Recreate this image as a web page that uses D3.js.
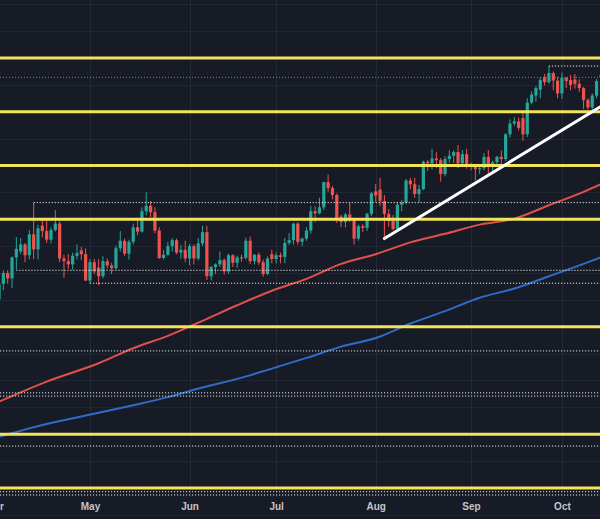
<!DOCTYPE html>
<html><head><meta charset="utf-8">
<script src="https://cdn.jsdelivr.net/npm/d3@7"></script>
<style>html,body{margin:0;padding:0;background:#171b26;overflow:hidden}</style>
</head><body><svg id="c" width="600" height="519"></svg>
<script>
// Daily candles, 1 Apr 2024 .. 14 Oct 2024 (weekdays)
const startDay = "2024-04-01", endDay = "2024-10-15";
const open  = [2232,2251,2280,2300,2290,2329,2340,2353,2333,2372,2344,2388,2378,2362,2380,2392,2327,2322,2316,2332,2342,2335,2286,2320,2310,2294,2322,2314,2309,2346,2360,2336,2358,2385,2377,2415,2425,2413,2379,2328,2334,2350,2361,2338,2343,2327,2350,2327,2355,2376,2294,2311,2316,2324,2303,2333,2319,2329,2328,2360,2322,2334,2320,2298,2335,2326,2333,2330,2356,2361,2392,2358,2364,2379,2415,2411,2422,2469,2458,2445,2405,2395,2409,2398,2364,2387,2384,2410,2452,2455,2434,2410,2397,2382,2427,2431,2472,2465,2447,2456,2507,2504,2513,2510,2484,2512,2518,2525,2504,2521,2503,2500,2493,2495,2516,2497,2506,2516,2512,2558,2578,2582,2588,2558,2617,2630,2641,2664,2655,2672,2658,2634,2663,2659,2660,2652,2644,2622,2608,2630,2668];
const high  = [2265,2288,2305,2305,2331,2367,2365,2356,2380,2431,2390,2402,2398,2385,2417,2396,2334,2335,2338,2353,2349,2346,2326,2326,2326,2331,2327,2319,2351,2378,2364,2362,2392,2398,2422,2450,2434,2422,2385,2343,2358,2365,2364,2352,2360,2354,2353,2365,2388,2388,2313,2318,2340,2327,2336,2335,2332,2334,2366,2368,2335,2338,2325,2331,2343,2338,2338,2365,2374,2393,2394,2366,2385,2425,2424,2440,2470,2483,2462,2448,2408,2412,2431,2400,2390,2391,2412,2451,2466,2477,2445,2419,2408,2432,2436,2475,2477,2477,2464,2509,2510,2531,2525,2514,2517,2528,2528,2538,2529,2531,2505,2502,2503,2523,2529,2509,2518,2528,2560,2586,2590,2589,2600,2625,2638,2648,2664,2670,2685,2675,2665,2673,2665,2668,2670,2660,2646,2625,2634,2661,2670];
const low   = [2228,2244,2268,2280,2272,2306,2335,2320,2325,2326,2325,2366,2356,2355,2377,2320,2291,2308,2306,2325,2324,2285,2280,2298,2277,2290,2308,2298,2306,2340,2332,2325,2353,2370,2375,2407,2404,2374,2326,2325,2331,2340,2335,2326,2320,2314,2316,2323,2350,2287,2286,2298,2311,2297,2298,2311,2310,2321,2325,2317,2316,2315,2293,2296,2318,2318,2318,2318,2352,2353,2353,2350,2360,2373,2395,2409,2417,2451,2437,2393,2385,2385,2395,2353,2360,2376,2378,2406,2432,2425,2364,2386,2379,2380,2415,2428,2456,2440,2431,2454,2490,2493,2495,2470,2480,2505,2505,2495,2502,2494,2491,2472,2484,2491,2485,2486,2500,2500,2508,2552,2574,2565,2546,2553,2614,2619,2625,2649,2652,2640,2625,2624,2644,2640,2643,2637,2605,2604,2603,2625,2654];
const close = [2251,2280,2300,2290,2329,2345,2353,2333,2372,2344,2383,2378,2362,2380,2392,2327,2322,2316,2332,2337,2335,2286,2320,2303,2294,2322,2314,2309,2346,2360,2336,2358,2385,2377,2415,2425,2413,2379,2328,2334,2350,2361,2338,2343,2327,2350,2327,2355,2376,2294,2311,2316,2324,2303,2333,2319,2329,2328,2360,2322,2334,2320,2298,2327,2326,2333,2330,2356,2361,2392,2358,2364,2379,2415,2411,2422,2469,2458,2445,2400,2395,2409,2398,2364,2387,2384,2410,2448,2444,2434,2410,2397,2382,2427,2431,2472,2465,2447,2456,2507,2504,2513,2510,2484,2512,2518,2525,2504,2521,2503,2500,2493,2495,2516,2497,2506,2516,2512,2558,2578,2582,2570,2558,2617,2632,2644,2659,2655,2672,2658,2634,2663,2657,2650,2652,2644,2622,2608,2630,2657,2664];

// Moving averages read at selected bars
const maBars = [0,12,24,32,40,48,56,64,72,80,88,96,104,112,120,128,136,140];
const maRed  = [2057,2098,2132,2160,2183,2211,2240,2267,2289,2317,2335,2357,2373,2390,2401,2426,2451,2465];
const maBlue = [1993,2019,2040,2054,2069,2087,2103,2122,2142,2163,2179,2206,2229,2254,2271,2294,2317,2329];

// Drawn levels
const yellowLevels = [2700,2600,2500,2400,2200,2000,1900];
const dotLevels = [2685,2431,2305,2281,2155,2077,2071,1978,1893,1887];
const dotFrom   = [128,9,5,22,0,0,0,0,0,0];
const lastPrice = 2664;
const trendBars = [90,140], trendVals = [2364,2610];
const gridStep = 50;

const W = 600, H = 519;
const svg = d3.select("#c");
const dates = d3.utcDays(new Date(startDay), new Date(endDay)).filter(d => d.getUTCDay() % 6 !== 0);
const n = close.length;

const x = d3.scaleLinear().domain([0, n - 1]).range([-5.3, 600.9]);
const y = d3.scaleLinear().domain([1842.3, 2807.9]).range([H, 0]);

svg.append("rect").attr("width", W).attr("height", H).attr("fill", "#171b26");

// month ticks = first trading day of each month
const monthIdx = [];
dates.forEach((d, i) => { if (i === 0 || d.getUTCMonth() !== dates[i - 1].getUTCMonth()) monthIdx.push(i); });
const fmt = d3.utcFormat("%b");

// grid
const gridVals = d3.range(Math.ceil(y.domain()[0] / gridStep) * gridStep, y.domain()[1], gridStep);
svg.append("g").selectAll("line").data(gridVals).join("line")
  .attr("x1", 0).attr("x2", W).attr("y1", d => Math.round(y(d)) + 0.5).attr("y2", d => Math.round(y(d)) + 0.5)
  .attr("stroke", "#222633").attr("stroke-width", 1);
svg.append("g").selectAll("line").data(monthIdx).join("line")
  .attr("x1", d => Math.round(x(d)) + 0.5).attr("x2", d => Math.round(x(d)) + 0.5).attr("y1", 0).attr("y2", 497)
  .attr("stroke", "#252935").attr("stroke-width", 1);

// moving averages
const line = d3.line().x((d, i) => x(maBars[i])).y(d => y(d)).curve(d3.curveMonotoneX);
svg.append("path").attr("d", line(maRed)).attr("fill", "none").attr("stroke", "#e2504c").attr("stroke-width", 2);
svg.append("path").attr("d", line(maBlue)).attr("fill", "none").attr("stroke", "#2f6cc8").attr("stroke-width", 2);

// candles
const idx = d3.range(n);
const col = i => close[i] >= open[i] ? "#26a69a" : "#ef5350";
const cg = svg.append("g");
cg.selectAll("line").data(idx).join("line")
  .attr("x1", i => x(i)).attr("x2", i => x(i))
  .attr("y1", i => y(high[i])).attr("y2", i => y(low[i]))
  .attr("stroke", col).attr("stroke-width", 1);
const bw = 3.2;
cg.selectAll("rect").data(idx).join("rect")
  .attr("x", i => x(i) - bw / 2).attr("width", bw)
  .attr("y", i => y(Math.max(open[i], close[i])))
  .attr("height", i => Math.max(1, Math.abs(y(open[i]) - y(close[i]))))
  .attr("fill", col);

// current price line
svg.append("line").attr("x1", 0).attr("x2", W).attr("y1", y(lastPrice)).attr("y2", y(lastPrice))
  .attr("stroke", "#a8707c").attr("stroke-width", 1).attr("stroke-dasharray", "1,2");

// dotted levels
svg.append("g").selectAll("line").data(dotLevels).join("line")
  .attr("x1", (d, i) => Math.max(0, x(dotFrom[i]))).attr("x2", W)
  .attr("y1", d => y(d)).attr("y2", d => y(d))
  .attr("stroke", "#e6e6e6").attr("stroke-width", 1).attr("stroke-dasharray", "1.2,1.8");

// yellow levels
svg.append("g").selectAll("line").data(yellowLevels).join("line")
  .attr("x1", 0).attr("x2", W).attr("y1", d => y(d)).attr("y2", d => y(d))
  .attr("stroke", "#f3e35c").attr("stroke-width", 3);

// trendline
svg.append("line")
  .attr("x1", x(trendBars[0])).attr("y1", y(trendVals[0]))
  .attr("x2", x(trendBars[1])).attr("y2", y(trendVals[1]))
  .attr("stroke", "#ffffff").attr("stroke-width", 3).attr("stroke-linecap", "round");

// time axis
const axis = d3.axisBottom(x).tickValues(monthIdx).tickFormat(i => fmt(dates[i])).tickSize(0).tickPadding(3);
const ag = svg.append("g").attr("transform", "translate(0,500)").call(axis);
ag.select(".domain").remove();
ag.selectAll("text").attr("fill", "#c2c5cd").attr("font-family", "Liberation Sans, Arial, sans-serif")
  .attr("font-size", 10).attr("font-weight", 700);
</script></body></html>
